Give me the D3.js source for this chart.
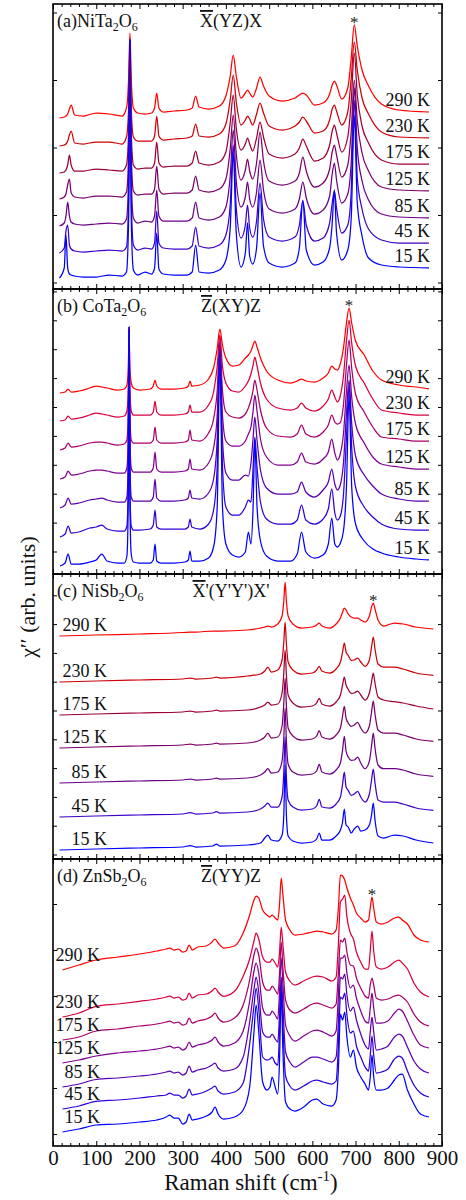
<!DOCTYPE html>
<html><head><meta charset="utf-8">
<script src="https://cdn.jsdelivr.net/npm/d3@7"></script>
<style>body{margin:0;background:#fff;overflow:hidden} svg{display:block}</style>
</head><body>
<script>
// ---------- DATA ----------
const temps = ["15 K","45 K","85 K","125 K","175 K","230 K","290 K"];
const xMajorTicks = [0,100,200,300,400,500,600,700,800,900];
const xMinorTicks = d3.range(20, 900, 20).filter(v => v % 100 !== 0);

// Panel (a) NiTa2O6 : Raman shift grid (cm-1), intensities (arb. units) relative to each offset
const gA = [15,26,30,34,38,42,50,70,100,130, 160,170,175,178,181,186,196,213,228,235, 240,245,255,280,310,322,330,338,360,385, 400,410,417,424,435,445,450,455,462,471, 479,487,500,530,560,570,578,586,605,625, 640,646,651,656,668,682,690,697,704,715, 730,760,800,870];
const offA = [11,36,63,90,116,143,171];
const a15  = [0,10,43,10,4,3,2,1,1,3, 2,6,60,238,60,8,3,6,4,10, 45,9,4,3,3,6,33,6,5,8, 18,50,125,45,11,25,55,22,14,30, 85,32,15,11,15,30,78,28,13,16, 30,55,88,45,18,28,60,163,75,42, 20,13,11,10];
const a45  = [0,5,22,28,8,4,2,1,2,3, 2,6,55,213,55,8,3,5,4,10, 42,10,5,4,4,7,26,7,5,8, 18,48,108,45,15,28,48,25,16,32, 70,34,16,12,16,28,52,28,12,15, 30,50,62,45,20,28,62,153,75,44, 24,13,10,10];
const a85  = [0,3,10,24,10,4,2,1,2,3, 2,7,50,186,50,8,3,5,4,10, 36,10,5,5,5,8,24,8,6,9, 19,50,96,45,19,29,44,27,19,34, 66,36,17,13,17,27,44,28,12,16, 30,52,63,46,23,32,64,138,78,45, 26,12,9,8];
const a125 = [0,2,5,14,20,6,2,1,3,3, 2,7,45,159,45,8,4,5,5,10, 33,10,5,6,6,9,23,9,7,10, 20,50,84,45,19,29,40,28,20,36, 67,38,18,14,18,26,42,28,12,16, 30,47,54,44,22,34,68,119,78,46, 28,12,9,8];
const a175 = [0,1,3,8,18,8,2,2,4,3, 2,8,42,133,42,8,4,5,5,10, 31,10,6,7,7,10,22,10,8,11, 21,50,78,45,23,29,35,29,22,35, 51,36,19,15,19,25,34,27,12,15, 28,42,48,40,21,36,72,120,78,47, 30,13,9,9];
const a230 = [0,1,2,5,11,15,3,2,4,4, 2,9,38,108,38,9,5,5,5,10, 30,10,6,7,8,10,22,10,9,12, 22,46,71,44,21,26,30,27,21,32, 43,33,20,16,20,24,29,25,13,15, 26,37,41,35,21,34,68,104,76,48, 32,14,9,8];
const a290 = [0,1,2,4,9,13,3,2,5,4, 2,10,40,85,40,10,5,4,5,10, 25,10,6,7,8,10,22,11,9,12, 22,42,63,42,20,25,28,25,21,30, 41,32,22,17,20,23,25,23,13,15, 24,33,37,33,19,30,60,93,72,48, 32,14,8,6];

// Panel (b) CoTa2O6
const gB = [16,28,35,42,60,85,100,113,125,150, 165,171,174,176,178,181,186,200,225,232, 236,240,250,280,305,313,317,321,340,360, 372,380,386,392,400,415,430,445,452,458, 463,467,472,480,494,520,550,565,575,585, 605,625,637,645,652,658,664,672,679,685, 691,700,720,740,760,800,840,870];
const offB = [8,37,66,95,124,153,181];
const b15  = [0,3,12,2,2,4,6,12,5,3, 3,10,60,236,60,12,4,3,3,6, 22,5,3,3,4,6,15,5,5,8, 20,60,211,60,22,11,9,14,34,22, 60,126,60,25,10,5,5,12,34,14, 8,11,22,48,22,19,22,35,80,171, 80,42,25,17,13,9,7,6];
const b45  = [0,3,11,4,5,9,10,12,8,6, 6,11,50,210,50,11,7,7,8,12, 27,10,8,8,8,10,18,10,8,13, 28,72,187,72,30,22,22,30,37,35, 70,100,70,35,18,13,13,17,32,17, 13,18,28,48,24,17,20,42,100,152, 90,50,30,20,13,8,7,7];
const b85  = [0,3,10,4,5,8,9,10,8,6, 6,11,45,181,45,11,7,7,7,11, 29,10,7,7,8,10,18,10,9,15, 30,70,158,70,35,28,28,33,32,45, 70,91,68,38,20,14,14,16,26,16, 11,18,26,39,24,18,22,45,95,128, 85,52,33,22,14,9,7,7];
const b125 = [0,2,8,4,5,8,9,9,8,6, 6,11,40,152,40,11,7,7,7,11, 27,10,7,7,8,10,20,10,9,16, 32,65,134,65,38,33,33,38,45,52, 68,84,68,40,22,14,14,17,26,17, 15,20,27,40,26,19,24,45,88,114, 82,55,36,22,15,12,10,10];
const b175 = [0,2,7,3,4,7,8,8,7,5, 6,10,35,122,35,10,7,7,7,10, 23,10,7,7,8,10,20,10,9,17, 32,60,110,60,38,33,32,36,42,50, 60,70,60,40,22,14,13,16,25,16, 13,18,25,35,28,26,27,45,85,110, 82,56,38,23,13,11,9,9];
const b230 = [0,1,5,2,3,6,8,7,6,4, 5,10,30,91,30,10,6,6,6,9, 20,9,6,6,7,9,16,9,9,16, 30,55,86,55,38,30,29,35,40,47, 56,64,55,38,22,13,11,13,18,13, 10,15,22,31,24,19,24,45,80,101, 78,55,38,22,11,8,6,6];
const b290 = [0,1,4,1,2,5,7,6,5,3, 4,8,22,58,25,10,5,3,4,7, 13,7,4,4,5,7,12,7,8,14, 26,45,64,48,35,27,28,35,38,42, 48,52,46,35,22,13,10,12,14,12, 11,15,20,27,24,23,28,45,70,85, 70,52,38,22,13,8,6,4];

// Panel (c) NiSb2O6
const gC = [15,100,200,300,318,330,370,378,386,450, 480,490,497,505,520,530,534,537,540,544, 555,575,600,610,616,622,640,655,665,670, 674,678,683,690,697,705,712,722,732,737, 741,745,752,765,790,810,840,880];
const offC = [9,42,76,111,144,177,223];
const c15  = [0,1,2,3,4.5,3,4,6,4,5, 7,12,15,10,9,15,35,85,35,14, 9,7,8,11,17,10,10,14,20,28, 41,25,23,17,21,24,19,20,25,35, 47,30,14,12,15,14,10,7];
const c45  = [0,1,2,3,4.5,3,4,5.5,4,5, 8,11,14,10,10,20,45,80,40,17, 10,7,8,11,17.7,10,9,13,20,33, 45,30,26.7,21.7,23,25.7,20,15,23,37, 48,34,17,15,15,13,9,6.7];
const c85  = [0,1,2,3,4,3,4,5,4,5, 8,11,14.3,10,11,22,45,75,42,19, 11,8,9,12,18.7,11,9,13,20,33, 46.7,32,26,22.7,23,26,20,14.3,22,37, 50,35,18,14.3,14.3,13,9,6.7];
const c125 = [0,1,2,3,4,3,4,5,4,5, 8,11,15,10,11,22,45,70,42,20, 12,8,9,12,17.3,11,9,13,20,32, 41.7,30,25,21.7,23,25.7,20,15,22,36, 47,34,18,15,15,13,9,6.7];
const c175 = [0,1,2,3,4,3,4,5,4,5, 8,10,13,10,11,22,42,65,40,20, 12,8,9,12,16.7,11,9,13,20,30, 38,30,25.7,21.7,22,24,20,15,22,33, 42,32,18,15,13.3,12,9,6];
const c230 = [0,1,2,3,4,3,4,5,4,6, 8,11,15,10,12,22,40,60,38,20, 12,8,9,12,15.7,11,9,13,20,30, 39,30,26.7,21.7,22,24,20,15.7,22,35, 45,33,18,15,15,13,9,6.7];
const c290 = [0,1,2,3.5,4,4,5,5,5,6, 8,9,10,9,12,20,35,54,35,20, 12,8,9,11,13,10,8,12,18,24, 28,26,22,19,18,18,16,14,20,29, 33,27,16,10,13,12,9,7];

// Panel (d) ZnSb2O6
const gD = [22,60,100,150,200,240,262,270,280,290, 300,308,315,322,335,355,368,375,382,395, 420,440,455,465,470,476,485,495,502,507, 514,520,524,528,532,538,548,560,580,600, 610,625,645,655,660,665,670,675,680,688, 695,702,712,722,730,734,738,742,748,760, 775,790,800,808,820,835,850,870];
const offD = [14,37,59,83,106,129,176];
const d15  = [0,3,7,8,10,12,15,17,14,14, 8,10,18,12,13,16,20,25,18,13, 15,22,45,100,127,100,50,42,45,55, 45,38,70,140,80,30,23,21,25,32, 33,28,26,32,60,118,112,120,95,75, 82,65,55,48,42,55,77,55,42,42, 44,52,57,58,42,28,18,15];
const d45  = [0,3,7.7,9,11,13,14,16,14,14, 11,13,20,14,15,18,21,23,18,15, 17,26,65,103,121,100,52,49,50,52, 46,44,75,126,82,33,23,19,23,28, 29,27,25,28,60,112,110,116,94,76, 78,63,52,42,38,54,73,54,36,37, 40,50,53,51,38,24,16,12];
const d85  = [0,3,7.5,9,11,13,15,16,14,15, 12,14,21,15,17,19,22,24,19,16, 18,30,65,98,110,95,55,50,50,53, 48,45,72,110,80,35,25,20,25,30, 30,28,25,30,62,110,108,113,92,76, 80,67,53,42,38,55,70,55,37,38, 41,50,53,51,40,26,18,14];
const d125 = [0,3,7,10,12,14,16,17,15,16, 13,15,21,16,18,20,23,26,21,17, 20,32,62,92,100,90,55,48,48,52, 48,44,70,105,78,38,27,22,27,32, 33,31,27,32,65,105,105,108,90,75, 78,65,52,42,40,55,70,55,40,40, 42,50,54,52,42,28,18,15];
const d175 = [0,3,9,11,14,16,18,19,17,18, 15,16,22,17,19,21,24,27,22,18, 22,35,60,85,92,85,58,50,50,54, 50,46,65,98,72,40,30,27,31,36, 37,35,32,36,65,100,98,102,88,75, 74,62,52,44,42,55,62,55,42,40, 41,44,45,43,38,26,18,14];
const d230 = [0,4,10.7,13,15.7,18,20,21,19,20, 17,18,24,19,22,23,26,29,25,20.7, 25.7,40.7,58,76,84,78,60,55,55,58, 54,50,64,90,72,45,36,32,36,40, 41,40,36,40,70,115,118,122,100,84, 78,65,55,48,48,66,86,66,50,48, 50,55,57,54,48,34,25,20];
const d290 = [0,5,10,13,16,19,21,22,20,21, 18,19,25,20,23,24,28,31,27,22, 24,37,55,70,74,72,60,55,53,55, 52,50,65,92,75,50,40,35,36,38, 39,38,36,40,60,95,94,90,82,72, 65,57,52,48,50,62,73,62,48,46, 48,52,53,50,46,35,30,28];

// invisible y-tick positions (arb. units) per panel
const ticksA = [6.5,74,141.5,209,276.5];
const ticksB = [22.5,51.4,80.3,109.2,138.1,167,195.9,224.8,253.7,282.6];
const ticksC = [4.5,33.3,62.1,90.9,119.7,148.5,177.3,206.1,234.9,263.7];
const ticksD = [12,58,104,150,196,242];

// starred peak positions
const starPositions = [697,685,741,738];

// ---------- STYLE / LAYOUT ----------
const colA = ["#0000ff","#3c00c8","#6a0085","#7c0068","#9e0034","#cc0008","#ff0000"];
const colB = ["#0000ff","#3000d8","#5a00b0","#800090","#a80068","#d8003c","#ff0000"];
const FONT = "'Liberation Serif','Times New Roman',Times,serif";
const W = 466, H = 1200, L = 53, R = 442;

const panels = [
  {top:4,   bottom:289,  grid:gA, series:[a15,a45,a85,a125,a175,a230,a290], off:offA, col:colA, ticks:ticksA,
   letter:"(a)", comp:[["NiTa",0],["2",1],["O",0],["6",1]], geom:["X","(YZ)X"], lab:{side:"right", x:430, gap:6}},
  {top:289, bottom:574,  grid:gB, series:[b15,b45,b85,b125,b175,b230,b290], off:offB, col:colB, ticks:ticksB,
   letter:"(b) ", comp:[["CoTa",0],["2",1],["O",0],["6",1]], geom:["Z","(XY)Z"], lab:{side:"right", x:430, gap:6}},
  {top:574, bottom:859,  grid:gC, series:[c15,c45,c85,c125,c175,c230,c290], off:offC, col:colA, ticks:ticksC,
   letter:"(c) ", comp:[["NiSb",0],["2",1],["O",0],["6",1]], geom:["X","'(Y'Y')X'"], lab:{side:"left", x:107, gap:5.5}},
  {top:859, bottom:1146, grid:gD, series:[d15,d45,d85,d125,d175,d230,d290], off:offD, col:colB, ticks:ticksD,
   letter:"(d) ", comp:[["ZnSb",0],["2",1],["O",0],["6",1]], geom:["Z","(YY)Z"], lab:{side:"left", x:100, gap:9}}
];

const svg = d3.select("body").append("svg").attr("width", W).attr("height", H)
  .style("font-family", FONT);
const x = d3.scaleLinear().domain([0, 900]).range([L, R]);

panels.forEach((p, pi) => {
  const y = d3.scaleLinear().domain([0, p.bottom - p.top]).range([p.bottom, p.top]);
  const g = svg.append("g");

  d3.range(temps.length).reverse().forEach(i => {
    const pts = p.grid.map((gx, k) => [gx, p.series[i][k]]);
    const line = d3.line().x(d => x(d[0])).y(d => y(p.off[i] + d[1])).curve(d3.curveMonotoneX);
    g.append("path").attr("d", line(pts)).attr("fill", "none")
      .attr("stroke", p.col[i]).attr("stroke-width", 1.25).attr("stroke-linejoin", "round");
  });

  temps.forEach((t, i) => {
    const s = p.series[i];
    const v = p.lab.side === "right" ? s[s.length - 1] : s[0];
    g.append("text").attr("x", p.lab.x).attr("y", y(p.off[i] + v) - p.lab.gap)
      .attr("text-anchor", "end").attr("font-size", 18).attr("fill", "#111").text(t);
  });

  const s290 = p.series[6];
  const kStar = d3.minIndex(p.grid, v => Math.abs(v - starPositions[pi]));
  g.append("text").attr("x", x(starPositions[pi])).attr("y", y(p.off[6] + s290[kStar]) + 3)
    .attr("text-anchor", "middle").attr("font-size", 17).attr("fill", "#222").text("*");

  const tt = g.append("text").attr("x", L + 4).attr("y", p.top + 23).attr("font-size", 18).attr("fill", "#111");
  tt.append("tspan").text(p.letter);
  let prevSub = false;
  p.comp.forEach(([txt, sub]) => {
    const ts = tt.append("tspan").text(txt);
    if (sub) { ts.attr("font-size", 12).attr("dy", 4); prevSub = true; }
    else if (prevSub) { ts.attr("dy", -4); prevSub = false; }
  });

  const gt = g.append("text").attr("x", 231).attr("y", p.top + 23).attr("font-size", 18)
    .attr("text-anchor", "middle").attr("fill", "#111");
  gt.append("tspan").attr("text-decoration", "overline").text(p.geom[0]);
  gt.append("tspan").text(p.geom[1]);

  const clean = sel => { sel.select(".domain").remove(); sel.selectAll("line").attr("stroke", "#000"); };
  g.append("g").attr("transform", `translate(0,${p.bottom})`)
    .call(d3.axisBottom(x).tickValues(xMajorTicks).tickSize(-5).tickPadding(4)
      .tickFormat(pi === 3 ? d3.format("d") : ""))
    .call(clean)
    .call(s => s.selectAll("text").attr("font-size", 21).attr("font-family", FONT).attr("fill", "#111"));
  g.append("g").attr("transform", `translate(0,${p.bottom})`)
    .call(d3.axisBottom(x).tickValues(xMinorTicks).tickSize(-3).tickFormat("")).call(clean);
  g.append("g").attr("transform", `translate(0,${p.top})`)
    .call(d3.axisTop(x).tickValues(xMajorTicks).tickSize(-5).tickFormat("")).call(clean);
  g.append("g").attr("transform", `translate(0,${p.top})`)
    .call(d3.axisTop(x).tickValues(xMinorTicks).tickSize(-3).tickFormat("")).call(clean);
  g.append("g").attr("transform", `translate(${L},0)`)
    .call(d3.axisLeft(y).tickValues(p.ticks).tickSize(-4).tickFormat("")).call(clean);
  g.append("g").attr("transform", `translate(${R},0)`)
    .call(d3.axisRight(y).tickValues(p.ticks).tickSize(-4).tickFormat("")).call(clean);

  g.append("rect").attr("x", L).attr("y", p.top).attr("width", R - L).attr("height", p.bottom - p.top)
    .attr("fill", "none").attr("stroke", "#000").attr("stroke-width", 1.6);
});

const xt = svg.append("text").attr("x", 251).attr("y", 1190).attr("text-anchor", "middle")
  .attr("font-size", 23).attr("fill", "#111");
xt.append("tspan").text("Raman shift (cm");
xt.append("tspan").attr("font-size", 15).attr("dy", -9).text("-1");
xt.append("tspan").attr("dy", 9).text(")");

svg.append("text").attr("transform", "translate(27.5,597) rotate(-90)")
  .attr("text-anchor", "middle").attr("dy", "0.35em").attr("font-size", 22).attr("fill", "#111")
  .text("\u03C7\u2032\u2032 (arb. units)");
</script>
</body></html>
